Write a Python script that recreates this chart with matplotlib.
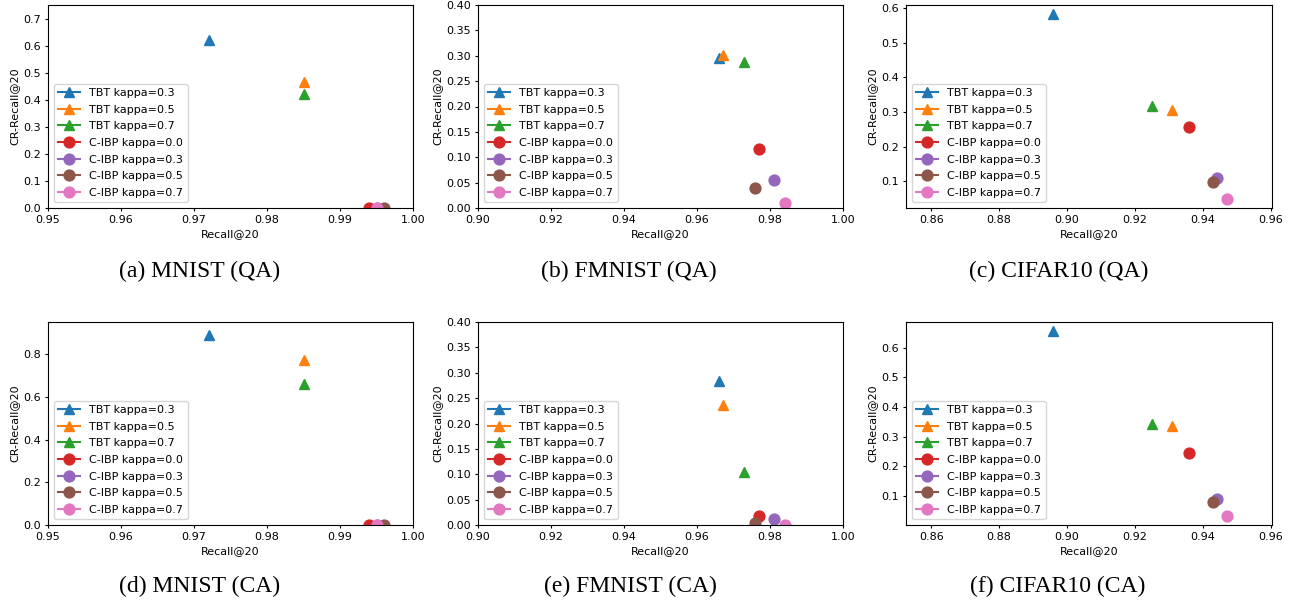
import numpy as np
import matplotlib
matplotlib.use("Agg")
import matplotlib.pyplot as plt

# Series labels (same order in every panel)
tbt_labels = ["TBT kappa=0.3", "TBT kappa=0.5", "TBT kappa=0.7"]
cibp_labels = ["C-IBP kappa=0.0", "C-IBP kappa=0.3", "C-IBP kappa=0.5", "C-IBP kappa=0.7"]

# (a) MNIST (QA)
mnist_qa_tbt_x = [0.972, 0.985, 0.985]
mnist_qa_tbt_y = [0.620, 0.465, 0.422]
mnist_qa_cibp_x = [0.994, 0.995, 0.996, 0.995]
mnist_qa_cibp_y = [0.0, 0.0, 0.0, 0.0]

# (b) FMNIST (QA)
fmnist_qa_tbt_x = [0.966, 0.967, 0.973]
fmnist_qa_tbt_y = [0.296, 0.302, 0.287]
fmnist_qa_cibp_x = [0.977, 0.981, 0.976, 0.984]
fmnist_qa_cibp_y = [0.116, 0.055, 0.039, 0.010]

# (c) CIFAR10 (QA)
cifar_qa_tbt_x = [0.896, 0.931, 0.925]
cifar_qa_tbt_y = [0.582, 0.306, 0.318]
cifar_qa_cibp_x = [0.936, 0.944, 0.943, 0.947]
cifar_qa_cibp_y = [0.258, 0.111, 0.099, 0.050]

# (d) MNIST (CA)
mnist_ca_tbt_x = [0.972, 0.985, 0.985]
mnist_ca_tbt_y = [0.888, 0.774, 0.659]
mnist_ca_cibp_x = [0.994, 0.995, 0.996, 0.995]
mnist_ca_cibp_y = [0.0, 0.0, 0.0, 0.0]

# (e) FMNIST (CA)
fmnist_ca_tbt_x = [0.966, 0.967, 0.973]
fmnist_ca_tbt_y = [0.284, 0.236, 0.105]
fmnist_ca_cibp_x = [0.977, 0.981, 0.976, 0.984]
fmnist_ca_cibp_y = [0.018, 0.012, 0.004, 0.0]

# (f) CIFAR10 (CA)
cifar_ca_tbt_x = [0.896, 0.931, 0.925]
cifar_ca_tbt_y = [0.656, 0.334, 0.341]
cifar_ca_cibp_x = [0.936, 0.944, 0.943, 0.947]
cifar_ca_cibp_y = [0.244, 0.089, 0.077, 0.032]

captions = ["(a) MNIST (QA)", "(b) FMNIST (QA)", "(c) CIFAR10 (QA)",
            "(d) MNIST (CA)", "(e) FMNIST (CA)", "(f) CIFAR10 (CA)"]

W, H = 1293, 605
plt.rcParams["font.size"] = 8
plt.rcParams["xtick.major.size"] = 2.5
plt.rcParams["ytick.major.size"] = 2.5
plt.rcParams["xtick.major.pad"] = 2.5
plt.rcParams["ytick.major.pad"] = 2.5
plt.rcParams["axes.labelpad"] = 3.0


def px_axes(fig, left, top, right, bottom):
    return fig.add_axes([left / W, 1 - bottom / H, (right - left) / W, (bottom - top) / H])


def draw_panel(ax, tx, ty, cx, cy, xlim, ylim, xticks):
    colors = plt.rcParams["axes.prop_cycle"].by_key()["color"]
    for i in range(len(tx)):
        ax.plot([tx[i]], [ty[i]], marker="^", ms=7.8, color=colors[i], label=tbt_labels[i])
    for j in range(len(cx)):
        ax.plot([cx[j]], [cy[j]], marker="o", ms=7.8, color=colors[3 + j], label=cibp_labels[j])
    ax.set_xlim(*xlim)
    if ylim is not None:
        ax.set_ylim(*ylim)
    ax.set_xticks(xticks)
    ax.set_xlabel("Recall@20")
    ax.set_ylabel("CR-Recall@20")
    ax.legend(loc="lower left", fontsize=8, labelspacing=0.6)


fig = plt.figure(figsize=(W / 100, H / 100), dpi=100)

x_mnist = (0.95, 1.00)
x_fmnist = (0.90, 1.00)
x_cifar = (0.8526, 0.9603)
t_mnist = [0.95, 0.96, 0.97, 0.98, 0.99, 1.00]
t_fmnist = [0.90, 0.92, 0.94, 0.96, 0.98, 1.00]
t_cifar = [0.86, 0.88, 0.90, 0.92, 0.94, 0.96]

ax = px_axes(fig, 48, 5, 413, 208)
draw_panel(ax, mnist_qa_tbt_x, mnist_qa_tbt_y, mnist_qa_cibp_x, mnist_qa_cibp_y,
           x_mnist, (0, 0.75), t_mnist)
ax = px_axes(fig, 478, 5, 843, 208)
draw_panel(ax, fmnist_qa_tbt_x, fmnist_qa_tbt_y, fmnist_qa_cibp_x, fmnist_qa_cibp_y,
           x_fmnist, (0, 0.40), t_fmnist)
ax = px_axes(fig, 906, 5, 1272, 208)
draw_panel(ax, cifar_qa_tbt_x, cifar_qa_tbt_y, cifar_qa_cibp_x, cifar_qa_cibp_y,
           x_cifar, None, t_cifar)

ax = px_axes(fig, 48, 322, 413, 525)
draw_panel(ax, mnist_ca_tbt_x, mnist_ca_tbt_y, mnist_ca_cibp_x, mnist_ca_cibp_y,
           x_mnist, (0, 0.95), t_mnist)
ax = px_axes(fig, 478, 322, 843, 525)
draw_panel(ax, fmnist_ca_tbt_x, fmnist_ca_tbt_y, fmnist_ca_cibp_x, fmnist_ca_cibp_y,
           x_fmnist, (0, 0.40), t_fmnist)
ax = px_axes(fig, 906, 322, 1272, 525)
draw_panel(ax, cifar_ca_tbt_x, cifar_ca_tbt_y, cifar_ca_cibp_x, cifar_ca_cibp_y,
           x_cifar, None, t_cifar)

# Captions below each panel
cap_x = [200, 629, 1059, 200, 630, 1058]
cap_y = [271, 271, 271, 586, 586, 586]
for cap, cx_, cy_ in zip(captions, cap_x, cap_y):
    fig.text(cx_ / W, 1 - cy_ / H, cap, ha="center", va="center",
             family="Liberation Serif", fontsize=17)

fig.savefig("out.png", dpi=100)
